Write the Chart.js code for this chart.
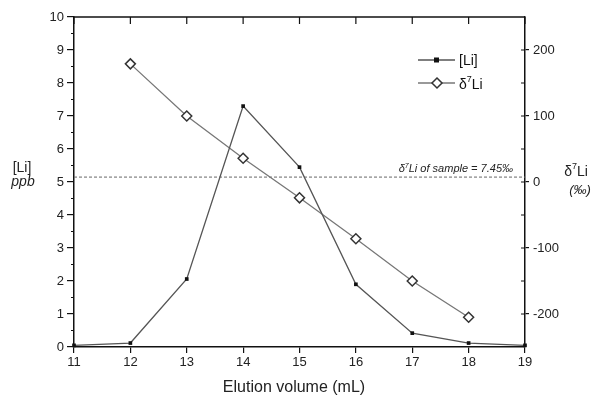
<!DOCTYPE html>
<html>
<head>
<meta charset="utf-8">
<script src="https://cdn.jsdelivr.net/npm/chart.js@4/dist/chart.umd.min.js"></script>
<style>
  html, body { margin: 0; padding: 0; background: #fff; }
  #wrap { width: 598px; height: 396px; }
</style>
</head>
<body>
<div id="wrap"><canvas id="elution-chart"></canvas></div>
<script>
// values
const volumes = [11, 12, 13, 14, 15, 16, 17, 18, 19];
const liConc = [0.05, 0.12, 2.06, 7.3, 5.45, 1.9, 0.42, 0.12, 0.05];
const deltaVolumes = [12, 13, 14, 15, 16, 17, 18];
const delta7Li = [179, 100, 36, -24, -86, -150, -205];
const sampleDelta = 7.45;
const sampleRange = [11, 19];
const rightTicks = [-200, -100, 0, 100, 200];
const rightMinor = [-150, -50, 50, 150];

const FONT = "'Liberation Sans', Arial, sans-serif";

function pairs(xs, ys) {
    return xs.map((x, i) => ({ x: x, y: ys[i] }));
}

// draws text with a superscript "7" after delta
function drawDelta(ctx, x, y, rest, size, italic) {
    const st = italic ? "italic " : "";
    ctx.font = st + size + "px " + FONT;
    ctx.fillText("δ", x, y);
    let w = ctx.measureText("δ").width;
    ctx.font = st + Math.round(size * 0.65) + "px " + FONT;
    ctx.fillText("7", x + w, y - size * 0.38);
    w += ctx.measureText("7").width;
    ctx.font = st + size + "px " + FONT;
    ctx.fillText(rest, x + w, y);
}
function deltaWidth(ctx, rest, size, italic) {
    const st = italic ? "italic " : "";
    ctx.font = st + size + "px " + FONT;
    let w = ctx.measureText("δ").width + ctx.measureText(rest).width;
    ctx.font = st + Math.round(size * 0.65) + "px " + FONT;
    return w + ctx.measureText("7").width;
}

const framePlugin = {
    id: "frame",
    afterDraw(chart) {
        const ctx = chart.ctx;
        const a = chart.chartArea;
        const xs = chart.scales.x, ys = chart.scales.y, y2 = chart.scales.y2;
        ctx.save();
        ctx.strokeStyle = "#111";
        ctx.lineWidth = 1.5;
        ctx.beginPath();
        ctx.moveTo(a.left, a.top);
        ctx.lineTo(a.right, a.top);
        ctx.stroke();

        ctx.lineWidth = 1.2;
        ctx.beginPath();
        // top ticks, inward
        volumes.forEach(v => {
            const px = xs.getPixelForValue(v);
            ctx.moveTo(px, a.top);
            ctx.lineTo(px, a.top + 7);
        });
        // left minor ticks
        for (let i = 0; i < 10; i++) {
            const py = ys.getPixelForValue(i + 0.5);
            ctx.moveTo(a.left - 3, py);
            ctx.lineTo(a.left, py);
        }
        // right ticks, inner half
        rightTicks.concat(rightMinor).forEach(v => {
            const py = y2.getPixelForValue(v);
            ctx.moveTo(a.right - 4, py);
            ctx.lineTo(a.right, py);
        });
        ctx.stroke();

        // sample label
        ctx.fillStyle = "#222";
        ctx.textBaseline = "alphabetic";
        ctx.textAlign = "left";
        const ly = y2.getPixelForValue(sampleDelta) - 5;
        const rest = "Li of sample = " + sampleDelta + "‰";
        const lw = deltaWidth(ctx, rest, 11, true);
        drawDelta(ctx, a.right - 12 - lw, ly, rest, 11, true);

        // axis titles
        ctx.textBaseline = "middle";
        ctx.textAlign = "center";
        ctx.font = "14px " + FONT;
        ctx.fillText("[Li]", 22, 168);
        ctx.font = "italic 14px " + FONT;
        ctx.fillText("ppb", 23, 182);

        ctx.textAlign = "left";
        const dw = deltaWidth(ctx, "Li", 14, false);
        drawDelta(ctx, 576 - dw / 2, 172, "Li", 14, false);
        ctx.font = "italic 13px " + FONT;
        ctx.textAlign = "center";
        ctx.fillText("(‰)", 580, 190);

        ctx.font = "16px " + FONT;
        ctx.fillText("Elution volume (mL)", 294, 388);

        // legend
        const rows = [
            { y: 60, ds: chart.data.datasets[0] },
            { y: 83, ds: chart.data.datasets[1] }
        ];
        rows.forEach((r, i) => {
            ctx.strokeStyle = r.ds.borderColor;
            ctx.lineWidth = 1.3;
            ctx.beginPath();
            ctx.moveTo(418, r.y);
            ctx.lineTo(455, r.y);
            ctx.stroke();
            if (i === 0) {
                ctx.fillStyle = "#111";
                ctx.fillRect(434, r.y - 2.5, 5, 5);
            } else {
                ctx.beginPath();
                ctx.moveTo(437, r.y - 5);
                ctx.lineTo(442, r.y);
                ctx.lineTo(437, r.y + 5);
                ctx.lineTo(432, r.y);
                ctx.closePath();
                ctx.fillStyle = "#fff";
                ctx.fill();
                ctx.strokeStyle = "#333";
                ctx.lineWidth = 1.5;
                ctx.stroke();
            }
        });
        ctx.fillStyle = "#111";
        ctx.textAlign = "left";
        ctx.textBaseline = "middle";
        ctx.font = "14px " + FONT;
        ctx.fillText("[Li]", 459, 61);
        drawDelta(ctx, 459, 85, "Li", 14, false);
        ctx.restore();
    }
};

const chartCanvas = document.getElementById("elution-chart");
const elutionChart = new Chart(chartCanvas, {
    type: "line",
    data: {
        datasets: [{
            label: "[Li]",
            data: pairs(volumes, liConc),
            yAxisID: "y",
            borderColor: "#555",
            borderWidth: 1.3,
            pointStyle: "rect",
            pointRadius: 2.6,
            pointBackgroundColor: "#111",
            pointBorderColor: "#111",
            pointBorderWidth: 0,
            tension: 0
        }, {
            label: "δ7Li",
            data: pairs(deltaVolumes, delta7Li),
            yAxisID: "y2",
            borderColor: "#777",
            borderWidth: 1.3,
            pointStyle: "rectRot",
            pointRadius: 5,
            pointBackgroundColor: "#fff",
            pointBorderColor: "#333",
            pointBorderWidth: 1.5,
            tension: 0
        }, {
            label: "sample",
            data: pairs(sampleRange, [sampleDelta, sampleDelta]),
            yAxisID: "y2",
            borderColor: "#666",
            borderWidth: 1,
            borderDash: [3, 2],
            pointRadius: 0
        }]
    },
    options: {
        responsive: true,
        maintainAspectRatio: false,
        animation: false,
        clip: false,
        layout: { padding: { top: 17, left: 0, right: 0, bottom: 0 } },
        plugins: {
            legend: { display: false },
            tooltip: { enabled: false }
        },
        scales: {
            x: {
                type: "linear",
                min: 11,
                max: 19,
                ticks: { stepSize: 1, color: "#222", font: { family: FONT, size: 13 }, padding: 2 },
                grid: { drawOnChartArea: false, tickLength: 6, color: "#111", lineWidth: 1.2 },
                border: { color: "#111", width: 1.5 },
                afterFit: s => { s.height = 49; }
            },
            y: {
                position: "left",
                min: 0,
                max: 10,
                ticks: { stepSize: 1, color: "#222", font: { family: FONT, size: 13 }, padding: 3 },
                grid: { drawOnChartArea: false, tickLength: 7, color: "#111", lineWidth: 1.2 },
                border: { color: "#111", width: 1.5 },
                afterFit: s => { s.width = 74; }
            },
            y2: {
                position: "right",
                min: -250,
                max: 250,
                afterBuildTicks: s => { s.ticks = rightTicks.map(v => ({ value: v })); },
                ticks: { color: "#222", font: { family: FONT, size: 13 }, padding: 4 },
                grid: { drawOnChartArea: false, tickLength: 4, color: "#111", lineWidth: 1.2 },
                border: { color: "#111", width: 1.5 },
                afterFit: s => { s.width = 73; }
            }
        }
    },
    plugins: [framePlugin]
});
</script>
</body>
</html>
